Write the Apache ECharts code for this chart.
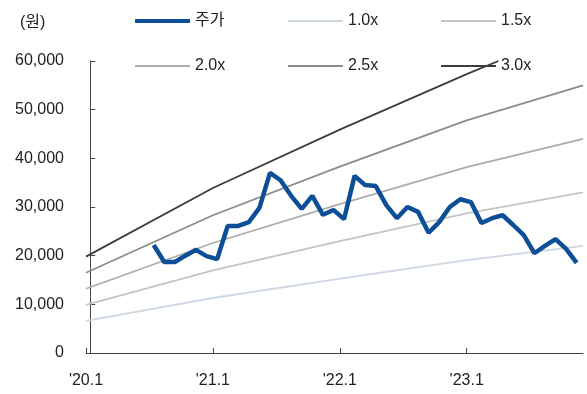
<!DOCTYPE html>
<html>
<head>
<meta charset="utf-8">
<script src="https://cdn.jsdelivr.net/npm/echarts@6/dist/echarts.min.js"></script>
<style>
html,body{margin:0;padding:0;background:#fff;}
#c{width:587px;height:394px;}
</style>
</head>
<body>
<div id="c"></div>
<script>
// x tick labels (one per year, at January)
var xTickLabels = ["'20.1", "'21.1", "'22.1", "'23.1"];
// Band vertex months (months since 2020.1)
var bandMonths = [0, 12, 24, 36, 47];
var band30Months = [0, 12, 24, 36, 39];
// PBR band values (원)
var band10 = [6600, 11300, 15300, 19100, 22000];
var band15 = [9900, 17000, 23000, 28700, 33000];
var band20 = [13200, 22600, 30600, 38200, 44000];
var band25 = [16500, 28300, 38300, 47800, 55000];
var band30 = [19800, 33900, 45900, 57300, 60000];
// Monthly share price (원), from 2020.7 to 2023.11
var priceStartMonth = 6;
var price = [22200, 18700, 18700, 20000, 21200, 19900, 19300, 26100, 26100, 26900,
             29800, 37000, 35500, 32300, 29600, 32300, 28400, 29400, 27500, 36400,
             34500, 34300, 30400, 27700, 30000, 29000, 24700, 26900, 30000, 31600,
             31000, 26700, 27700, 28300, 26300, 24200, 20500, 22000, 23400, 21400, 18500];

var months = [];
for (var y = 20; y <= 23; y++) for (var m = 1; m <= 12; m++) months.push(y + '.' + m);

function pairs(xs, vs) { return xs.map(function (x, i) { return [x, vs[i]]; }); }
var priceData = price.map(function (v, i) { return [priceStartMonth + i, v]; });

var FONT = '"Liberation Sans", Arial, "Noto Sans CJK KR", sans-serif';
var txt = '#222';

var chart = echarts.init(document.getElementById('c'));
function lg(name, left, top, h) {
  return {
    data: [name], left: left, top: top, itemWidth: 55, itemHeight: h, icon: 'rect',
    padding: 0, textStyle: { fontFamily: FONT, fontSize: 16, color: txt, lineHeight: 16 }
  };
}
chart.setOption({
  animation: false,
  backgroundColor: '#fff',
  title: { text: '(원)', left: 15, top: 10, textStyle: { fontFamily: FONT, fontSize: 16, fontWeight: 'normal', color: txt } },
  legend: [
    lg('주가', 135, 13, 4), lg('1.0x', 288, 13, 2), lg('1.5x', 441, 13, 2),
    lg('2.0x', 135, 58, 2), lg('2.5x', 288, 58, 2), lg('3.0x', 441, 58, 2)
  ],
  grid: { left: 86, right: 4, top: 61, bottom: 41 },
  xAxis: [
    {
      type: 'category', data: months, boundaryGap: false,
      axisLine: { lineStyle: { color: '#444', width: 1 } },
      axisTick: { inside: true, length: 5, interval: 11, lineStyle: { color: '#444' } },
      axisLabel: {
        interval: 11, margin: 20, fontFamily: FONT, fontSize: 16, color: txt,
        formatter: function (v, i) { return xTickLabels[i / 12] || ''; }
      },
      splitLine: { show: false }
    },
    { type: 'value', min: -0.4, max: 46.6, show: false },
    { type: 'value', min: 0, max: 47, show: false }
  ],
  yAxis: {
    type: 'value', min: 0, max: 60000, interval: 10000,
    axisLine: { show: true, lineStyle: { color: '#444', width: 1 } },
    axisTick: { show: true, inside: true, length: 5, lineStyle: { color: '#444' } },
    splitLine: { show: false },
    axisLabel: {
      margin: 22, fontFamily: FONT, fontSize: 16, color: txt,
      formatter: function (v) { return String(v).replace(/\B(?=(\d{3})+(?!\d))/g, ','); }
    }
  },
  series: [
    { name: '1.0x', type: 'line', xAxisIndex: 2, data: pairs(bandMonths, band10), symbol: 'none', lineStyle: { color: '#cdd7e4', width: 1.8 }, itemStyle: { color: '#cdd7e4' } },
    { name: '1.5x', type: 'line', xAxisIndex: 2, data: pairs(bandMonths, band15), symbol: 'none', lineStyle: { color: '#c4c4c4', width: 1.8 }, itemStyle: { color: '#c4c4c4' } },
    { name: '2.0x', type: 'line', xAxisIndex: 2, data: pairs(bandMonths, band20), symbol: 'none', lineStyle: { color: '#acacac', width: 1.8 }, itemStyle: { color: '#acacac' } },
    { name: '2.5x', type: 'line', xAxisIndex: 2, data: pairs(bandMonths, band25), symbol: 'none', lineStyle: { color: '#8c8c8c', width: 1.8 }, itemStyle: { color: '#8c8c8c' } },
    { name: '3.0x', type: 'line', xAxisIndex: 2, data: pairs(band30Months, band30), symbol: 'none', lineStyle: { color: '#3c3c3c', width: 1.8 }, itemStyle: { color: '#3c3c3c' } },
    { name: '주가', type: 'line', xAxisIndex: 1, data: priceData, symbol: 'none', z: 5, lineStyle: { color: '#0d4f97', width: 4.5 }, itemStyle: { color: '#0d4f97' } }
  ]
});
</script>
</body>
</html>
